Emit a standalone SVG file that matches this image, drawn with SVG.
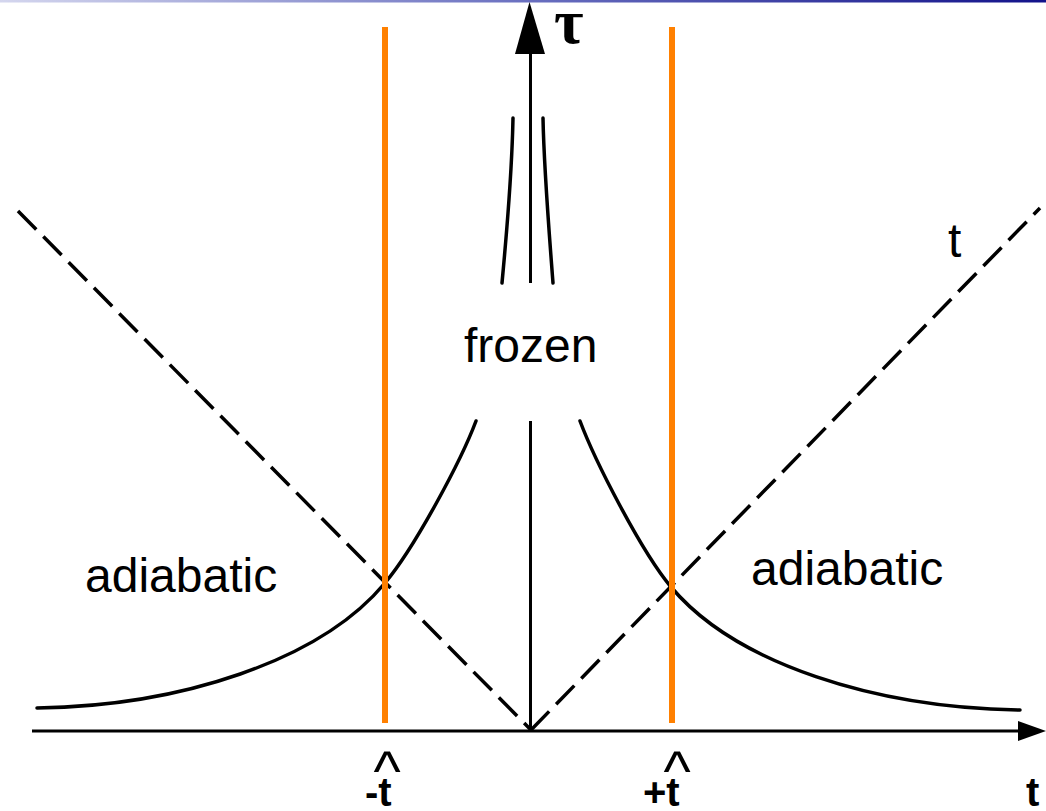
<svg xmlns="http://www.w3.org/2000/svg" width="1046" height="811" viewBox="0 0 1046 811">
<defs>
<linearGradient id="topbar" x1="0" y1="0" x2="1" y2="0">
<stop offset="0" stop-color="#d4d6ee"/>
<stop offset="0.5" stop-color="#6a70c0"/>
<stop offset="1" stop-color="#12128a"/>
</linearGradient>
<style>
.ax{stroke:#000;stroke-width:3;fill:none}
.cv{stroke:#000;stroke-width:3.5;fill:none;stroke-linecap:round}
.ds{stroke:#000;stroke-width:3.5;fill:none;stroke-dasharray:26 10}
.or{stroke:#ff8000;stroke-width:6;fill:none}
.lb{font-family:"Liberation Sans",Arial,sans-serif;fill:#000}
.bl{font-family:"Liberation Sans",Arial,sans-serif;fill:#000;font-weight:bold}
.hat{font-family:"Liberation Sans",Arial,sans-serif;fill:#000;font-size:58px;text-anchor:middle}
</style>
</defs>
<rect width="1046" height="811" fill="#fff"/>
<rect x="0" y="0" width="1046" height="2.5" fill="url(#topbar)"/>
<g id="connectors">
<line class="ax" x1="32" y1="731" x2="1022" y2="731" stroke-width="3"/>
<polygon points="1018,721 1046,731 1018,741" fill="#000"/>
<line class="ax" x1="530.5" y1="730" x2="530.5" y2="421" stroke-width="4"/>
<line class="ax" x1="530.5" y1="283" x2="530.5" y2="48" stroke-width="4"/>
<polygon points="515,54 529.5,2 545,54" fill="#000"/>
<line class="ds" x1="18" y1="211" x2="531" y2="730"/>
<line class="ds" x1="531" y1="730" x2="1040" y2="208"/>
<path class="cv" d="M37,708 C180,706 320,661 385,583 C415,547 461,461 476,421"/>
<path class="cv" d="M1020,710 C876,708 736,664 671,587 C641,551 595,461 580,421"/>
<path class="cv" d="M513,118 C512,170 507,230 502,283"/>
<path class="cv" d="M543,118 C544,170 549,230 553,283"/>
<line class="or" x1="385" y1="27" x2="385" y2="723"/>
<line class="or" x1="672" y1="27" x2="672" y2="723"/>
</g>
<g id="tau-label"><text x="554" y="43" font-family="Liberation Serif,serif" font-size="64" font-weight="bold" fill="#000">τ</text></g>
<g id="frozen"><text class="lb" x="464" y="362" font-size="48">frozen</text></g>
<g id="adiabatic-left"><text class="lb" x="85" y="592" font-size="48">adiabatic</text></g>
<g id="adiabatic-right"><text class="lb" x="751" y="585" font-size="48">adiabatic</text></g>
<g id="t-diag"><text class="lb" x="948" y="257" font-size="48">t</text></g>
<g id="minus-that"><text class="hat" x="387" y="791">^</text><text class="bl" x="365" y="806" font-size="40">-t</text></g>
<g id="plus-that"><text class="hat" x="677" y="791">^</text><text class="bl" x="643" y="806" font-size="40">+t</text></g>
<g id="t-axis"><text class="bl" x="1026" y="806" font-size="40">t</text></g>
</svg>
